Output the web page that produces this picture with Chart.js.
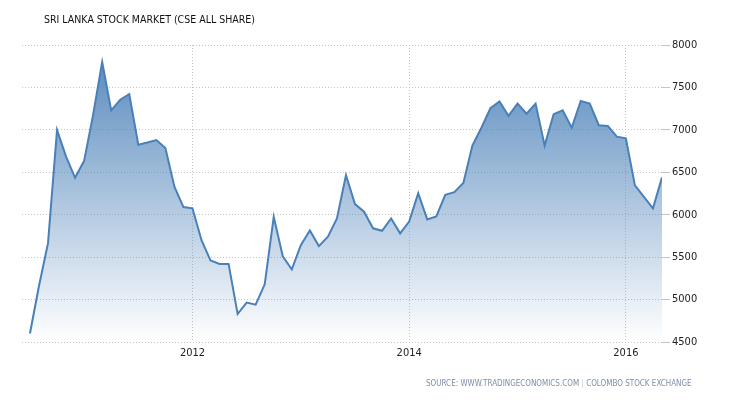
<!DOCTYPE html>
<html>
<head>
<meta charset="utf-8">
<script src="https://cdn.jsdelivr.net/npm/chart.js@4/dist/chart.umd.min.js"></script>
<style>
  body { margin: 0; background: #fff; }
  #wrap { position: relative; width: 730px; height: 400px; }
  #title { position: absolute; left: 44px; top: 13px; font: 10.5px "DejaVu Sans Condensed", sans-serif; color: #111; white-space: nowrap; }
  #source { position: absolute; left: 426px; top: 379px; font: 8px "DejaVu Sans Condensed", sans-serif; color: #7d8fa6; white-space: nowrap; }
  #source span { color: #c5cdd8; }
  canvas { position: absolute; left: 0; top: 0; }
</style>
</head>
<body>
<div id="wrap">
  <canvas id="canvas" width="730" height="400"></canvas>
  <div id="title">SRI LANKA STOCK MARKET (CSE ALL SHARE)</div>
  <div id="source">SOURCE: WWW.TRADINGECONOMICS.COM <span>|</span> COLOMBO STOCK EXCHANGE</div>
</div>
<script>
const ctx = document.getElementById('canvas').getContext('2d');

// monthly closes, Jul 2010 .. May 2016
const months = [
  '2010-07', '2010-08', '2010-09', '2010-10', '2010-11', '2010-12',
  '2011-01', '2011-02', '2011-03', '2011-04', '2011-05', '2011-06',
  '2011-07', '2011-08', '2011-09', '2011-10', '2011-11', '2011-12',
  '2012-01', '2012-02', '2012-03', '2012-04', '2012-05', '2012-06',
  '2012-07', '2012-08', '2012-09', '2012-10', '2012-11', '2012-12',
  '2013-01', '2013-02', '2013-03', '2013-04', '2013-05', '2013-06',
  '2013-07', '2013-08', '2013-09', '2013-10', '2013-11', '2013-12',
  '2014-01', '2014-02', '2014-03', '2014-04', '2014-05', '2014-06',
  '2014-07', '2014-08', '2014-09', '2014-10', '2014-11', '2014-12',
  '2015-01', '2015-02', '2015-03', '2015-04', '2015-05', '2015-06',
  '2015-07', '2015-08', '2015-09', '2015-10', '2015-11', '2015-12',
  '2016-01', '2016-02', '2016-03', '2016-04', '2016-05'
];
const cseAllShare = [
  4600, 5160, 5665, 7000, 6685, 6435,
  6635, 7180, 7800, 7230, 7355, 7420, 6825, 6850, 6880, 6785, 6330, 6090,
  6075, 5700, 5460, 5420, 5420, 4830, 4965, 4940, 5180, 5975, 5510, 5355,
  5640, 5815, 5630, 5740, 5955, 6465, 6125, 6035, 5840, 5810, 5955, 5780,
  5920, 6255, 5945, 5980, 6235, 6265, 6375, 6815, 7025, 7255, 7335, 7165,
  7310, 7190, 7310, 6815, 7185, 7230, 7025, 7340, 7310, 7055, 7045, 6920,
  6900, 6345, 6210, 6075, 6440
];
const xTickLabels = ['2012', '2014', '2016'];
const yTicks = [4500, 5000, 5500, 6000, 6500, 7000, 7500, 8000];

const BaseYear = 2010;
function monthIndex(s) {
  const parts = s.split('-');
  return (parseInt(parts[0]) - BaseYear) * 12 + parseInt(parts[1]) - 1;
}

const points = months.map((m, i) => ({ x: monthIndex(m), y: cseAllShare[i] }));
const gridDash = [1, 2];

new Chart(ctx, {
  type: 'line',
  data: {
    datasets: [{
      data: points,
      borderColor: '#4a80b8',
      borderWidth: 2,
      pointRadius: 0,
      tension: 0,
      fill: 'start',
      backgroundColor: (c) => {
        const area = c.chart.chartArea;
        if (!area) return 'rgba(74,128,184,0.5)';
        const g = c.chart.ctx.createLinearGradient(0, area.top, 0, area.bottom);
        g.addColorStop(0, 'rgba(74,128,184,0.95)');
        g.addColorStop(1, 'rgba(74,128,184,0.0)');
        return g;
      }
    }]
  },
  options: {
    responsive: false,
    animation: false,
    layout: { padding: { top: 45, left: 22, right: 0, bottom: 38 } },
    plugins: { legend: { display: false }, tooltip: { enabled: false } },
    scales: {
      x: {
        type: 'linear',
        min: 5.12,
        max: 76,
        afterBuildTicks: (scale) => {
          scale.ticks = xTickLabels.map(l => ({ value: (parseInt(l) - BaseYear) * 12 }));
        },
        afterFit: (scale) => { scale.height = 20; },
        grid: { color: '#c4c4c4', drawTicks: false },
        border: { display: false, dash: gridDash },
        ticks: {
          padding: 5,
          color: '#222',
          font: { family: 'DejaVu Sans Condensed', size: 11 },
          callback: (v) => String(BaseYear + v / 12)
        }
      },
      y: {
        position: 'right',
        min: 4500,
        max: 8000,
        afterBuildTicks: (scale) => {
          scale.ticks = yTicks.map(v => ({ value: v }));
        },
        afterFit: (scale) => { scale.width = 68; },
        grid: { color: '#c4c4c4', tickLength: 8 },
        border: { display: false, dash: gridDash },
        ticks: {
          padding: 2,
          color: '#222',
          font: { family: 'DejaVu Sans Condensed', size: 11 },
          callback: (v) => String(v)
        }
      }
    }
  }
});
</script>
</body>
</html>
